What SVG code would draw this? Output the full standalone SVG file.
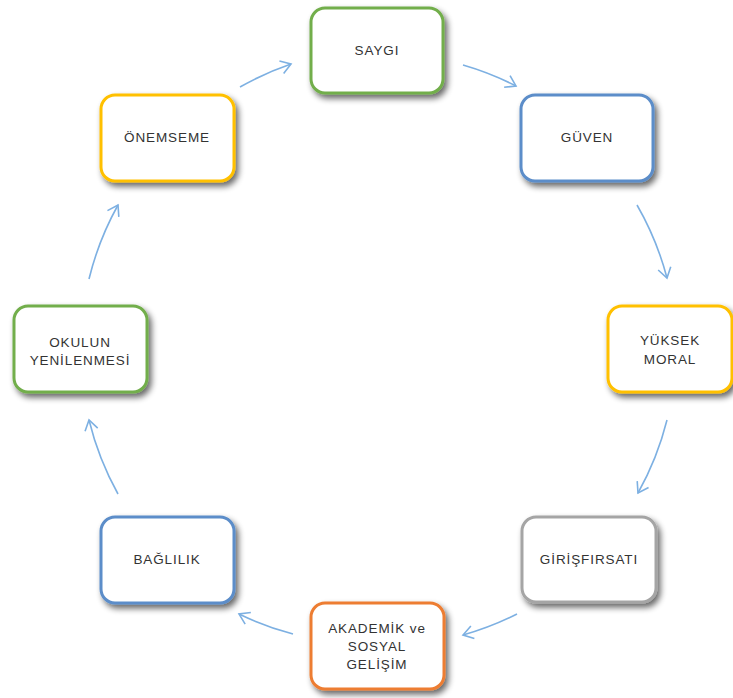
<svg xmlns="http://www.w3.org/2000/svg" width="733" height="698" viewBox="0 0 733 698">
  <style>
    .box { fill: #ffffff; stroke-width: 3; filter: url(#shadow); }
    .green { stroke: #72AE4B; }
    .blue { stroke: #5B8DC9; }
    .yellow { stroke: #FFC000; }
    .orange { stroke: #ED7D31; }
    .gray { stroke: #A5A5A5; }
    .label { font-family: "Liberation Sans", "Open Sans", sans-serif; font-size: 13.5px; fill: #333333; text-anchor: middle; letter-spacing: 0.9px; }
    .arrow { fill: none; stroke: #7DB0E2; stroke-width: 1.6; marker-end: url(#head); }
  </style>
  <defs>
    <filter id="shadow" x="-20%" y="-20%" width="150%" height="150%">
      <feGaussianBlur in="SourceAlpha" stdDeviation="3"/>
      <feOffset dx="3" dy="4" result="blur"/>
      <feComponentTransfer><feFuncA type="linear" slope="0.6"/></feComponentTransfer>
      <feMerge><feMergeNode/><feMergeNode in="SourceGraphic"/></feMerge>
    </filter>
    <marker id="head" markerWidth="15" markerHeight="15" refX="11" refY="7.5" orient="auto" markerUnits="userSpaceOnUse">
      <path d="M1,1 L11,7.5 L1,14" fill="none" stroke="#7DB0E2" stroke-width="1.6"/>
    </marker>
  </defs>

  <rect width="733" height="698" fill="#ffffff"/>

  <!-- cycle connectors, arcs on one circle around the centre -->
  <g id="connectors">
    <path class="arrow" d="M240,87 A298,298 0 0 1 291,64"/>
    <path class="arrow" d="M463,65 A298,298 0 0 1 516,86"/>
    <path class="arrow" d="M637,205 A298,298 0 0 1 667,278"/>
    <path class="arrow" d="M667,420 A298,298 0 0 1 638,493"/>
    <path class="arrow" d="M517,614 A298,298 0 0 1 463,635"/>
    <path class="arrow" d="M293,634 A298,298 0 0 1 239,614"/>
    <path class="arrow" d="M118,494 A298,298 0 0 1 89,420"/>
    <path class="arrow" d="M89,279 A298,298 0 0 1 118,205"/>
  </g>

  <g id="saygi">
    <rect class="box green" x="311" y="8" width="132" height="85" rx="14"/>
    <text class="label" x="377" y="55">SAYGI</text>
  </g>
  <g id="guven">
    <rect class="box blue" x="521" y="95" width="132" height="86" rx="14"/>
    <text class="label" x="587" y="142">GÜVEN</text>
  </g>
  <g id="yuksek-moral">
    <rect class="box yellow" x="608" y="306" width="124" height="86" rx="14"/>
    <text class="label" x="670" y="345">YÜKSEK</text>
    <text class="label" x="670" y="364">MORAL</text>
  </g>
  <g id="giris-firsati">
    <rect class="box gray" x="522" y="517" width="134" height="85" rx="14"/>
    <text class="label" x="589" y="564">GİRİŞFIRSATI</text>
  </g>
  <g id="akademik-sosyal">
    <rect class="box orange" x="311" y="603" width="133" height="86" rx="14"/>
    <text class="label" x="377" y="633">AKADEMİK ve</text>
    <text class="label" x="377" y="651">SOSYAL</text>
    <text class="label" x="377" y="669">GELİŞİM</text>
  </g>
  <g id="baglilik">
    <rect class="box blue" x="101" y="517" width="133" height="86" rx="14"/>
    <text class="label" x="167" y="564">BAĞLILIK</text>
  </g>
  <g id="okulun-yenilenmesi">
    <rect class="box green" x="14" y="306" width="133" height="86" rx="14"/>
    <text class="label" x="80" y="347">OKULUN</text>
    <text class="label" x="80" y="365">YENİLENMESİ</text>
  </g>
  <g id="onemseme">
    <rect class="box yellow" x="101" y="95" width="133" height="86" rx="14"/>
    <text class="label" x="167" y="142">ÖNEMSEME</text>
  </g>
</svg>
